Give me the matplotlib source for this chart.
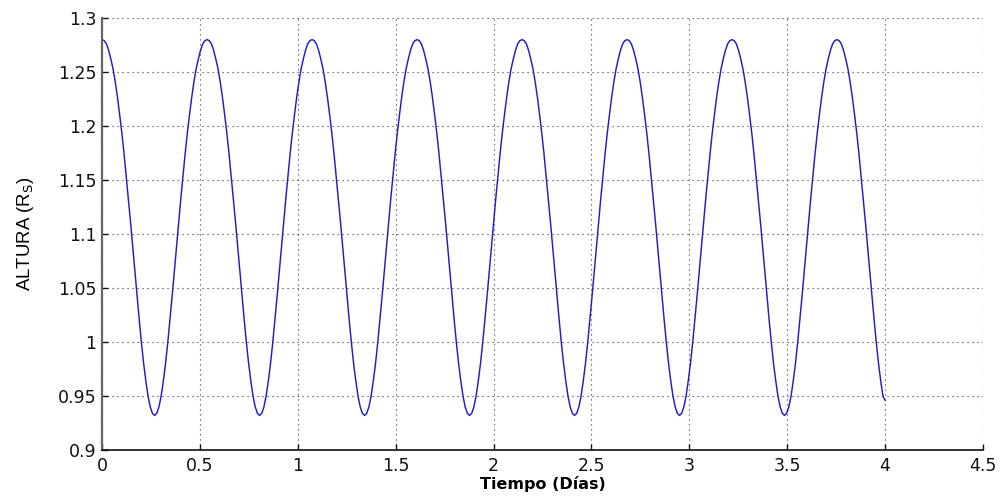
import numpy as np
import matplotlib
matplotlib.use("Agg")
import matplotlib.pyplot as plt

# ---- data ----
tiempo = np.linspace(0.0, 4.0, 359)   # days (sampling grid)
altura = [
    # orbit 1
    1.280, 1.279, 1.276, 1.270, 1.262, 1.253, 1.241, 1.227, 1.211, 1.194, 1.175, 1.154,
    1.133, 1.111, 1.088, 1.065, 1.042, 1.020, 0.999, 0.980, 0.964, 0.950, 0.940, 0.934,
    0.932, 0.934, 0.940, 0.950, 0.964, 0.980, 0.999, 1.020, 1.042, 1.065, 1.088, 1.111,
    1.133, 1.154, 1.175, 1.194, 1.211, 1.227, 1.241, 1.253, 1.262, 1.270, 1.276, 1.279,
    # orbit 2
    1.280, 1.279, 1.276, 1.270, 1.262, 1.253, 1.241, 1.227, 1.211, 1.194, 1.175, 1.154,
    1.133, 1.111, 1.088, 1.065, 1.042, 1.020, 0.999, 0.980, 0.964, 0.950, 0.940, 0.934,
    0.932, 0.934, 0.940, 0.950, 0.964, 0.980, 0.999, 1.020, 1.042, 1.065, 1.088, 1.111,
    1.133, 1.154, 1.175, 1.194, 1.211, 1.227, 1.241, 1.253, 1.262, 1.270, 1.276, 1.279,
    # orbit 3
    1.280, 1.279, 1.276, 1.270, 1.262, 1.253, 1.241, 1.227, 1.211, 1.194, 1.175, 1.154,
    1.133, 1.111, 1.088, 1.065, 1.042, 1.020, 0.999, 0.980, 0.964, 0.950, 0.940, 0.934,
    0.932, 0.934, 0.940, 0.950, 0.964, 0.980, 0.999, 1.020, 1.042, 1.065, 1.088, 1.111,
    1.133, 1.154, 1.175, 1.194, 1.211, 1.227, 1.241, 1.253, 1.262, 1.270, 1.276, 1.279,
    # orbit 4
    1.280, 1.279, 1.276, 1.270, 1.262, 1.253, 1.241, 1.227, 1.211, 1.194, 1.175, 1.154,
    1.133, 1.111, 1.088, 1.065, 1.042, 1.020, 0.999, 0.980, 0.964, 0.950, 0.940, 0.934,
    0.932, 0.934, 0.940, 0.950, 0.964, 0.980, 0.999, 1.020, 1.042, 1.065, 1.088, 1.111,
    1.133, 1.154, 1.175, 1.194, 1.211, 1.227, 1.241, 1.253, 1.262, 1.270, 1.276, 1.279,
    # orbit 5
    1.280, 1.279, 1.276, 1.270, 1.262, 1.253, 1.241, 1.227, 1.211, 1.194, 1.175, 1.154,
    1.133, 1.111, 1.088, 1.065, 1.042, 1.020, 0.999, 0.980, 0.964, 0.950, 0.940, 0.934,
    0.932, 0.934, 0.940, 0.950, 0.964, 0.980, 0.999, 1.020, 1.042, 1.065, 1.088, 1.111,
    1.133, 1.154, 1.175, 1.194, 1.211, 1.227, 1.241, 1.253, 1.262, 1.270, 1.276, 1.279,
    # orbit 6
    1.280, 1.279, 1.276, 1.270, 1.262, 1.253, 1.241, 1.227, 1.211, 1.194, 1.175, 1.154,
    1.133, 1.111, 1.088, 1.065, 1.042, 1.020, 0.999, 0.980, 0.964, 0.950, 0.940, 0.934,
    0.932, 0.934, 0.940, 0.950, 0.964, 0.980, 0.999, 1.020, 1.042, 1.065, 1.088, 1.111,
    1.133, 1.154, 1.175, 1.194, 1.211, 1.227, 1.241, 1.253, 1.262, 1.270, 1.276, 1.279,
    # orbit 7
    1.280, 1.279, 1.276, 1.270, 1.262, 1.253, 1.241, 1.227, 1.211, 1.194, 1.175, 1.154,
    1.133, 1.111, 1.088, 1.065, 1.042, 1.020, 0.999, 0.980, 0.964, 0.950, 0.940, 0.934,
    0.932, 0.934, 0.940, 0.950, 0.964, 0.980, 0.999, 1.020, 1.042, 1.065, 1.088, 1.111,
    1.133, 1.154, 1.175, 1.194, 1.211, 1.227, 1.241, 1.253, 1.262, 1.270, 1.276, 1.279,
    # last partial orbit
    1.280, 1.279, 1.276, 1.270, 1.262, 1.253, 1.241, 1.227, 1.211, 1.194, 1.175, 1.154,
    1.133, 1.111, 1.088, 1.065, 1.042, 1.020, 0.999, 0.980, 0.964, 0.950, 0.946,
]

xticks = [0, 0.5, 1, 1.5, 2, 2.5, 3, 3.5, 4, 4.5]
xtick_labels = ["0", "0.5", "1", "1.5", "2", "2.5", "3", "3.5", "4", "4.5"]
yticks = [0.9, 0.95, 1.0, 1.05, 1.1, 1.15, 1.2, 1.25, 1.3]
ytick_labels = ["0.9", "0.95", "1", "1.05", "1.1", "1.15", "1.2", "1.25", "1.3"]

# ---- figure ----
fig = plt.figure(figsize=(10.01, 4.96), dpi=100)
ax = fig.add_axes([0.102, 0.0927, 0.880, 0.871])

ax.plot(tiempo, altura, color="#1e1ec4", lw=1.05)

ax.set_xlim(0, 4.5)
ax.set_ylim(0.9, 1.3)
ax.set_xticks(xticks)
ax.set_xticklabels(xtick_labels, fontsize=12.5, family="DejaVu Sans")
ax.set_yticks(yticks)
ax.set_yticklabels(ytick_labels, fontsize=12.5, family="DejaVu Sans")

ax.grid(True, color="#333333", linestyle=(0, (1, 3.5)), linewidth=0.8)
ax.set_axisbelow(True)

for s in ("top", "right"):
    ax.spines[s].set_visible(False)
ax.spines["left"].set_color("#666666")
ax.spines["left"].set_linewidth(1.6)
ax.spines["bottom"].set_color("#111111")
ax.spines["bottom"].set_linewidth(1.2)

ax.tick_params(axis="both", direction="in", length=4, width=1, colors="#111111")
ax.tick_params(axis="x", pad=5)
ax.tick_params(axis="y", pad=4)

ax.set_xlabel("Tiempo (Días)", fontsize=11.5, fontweight="bold",
              family="DejaVu Sans", labelpad=1)
ax.set_ylabel("ALTURA (R$_{\\mathrm{S}}$)", fontsize=13.4,
              family="Liberation Sans", labelpad=16)

fig.savefig("out.png", dpi=100, facecolor="white")
